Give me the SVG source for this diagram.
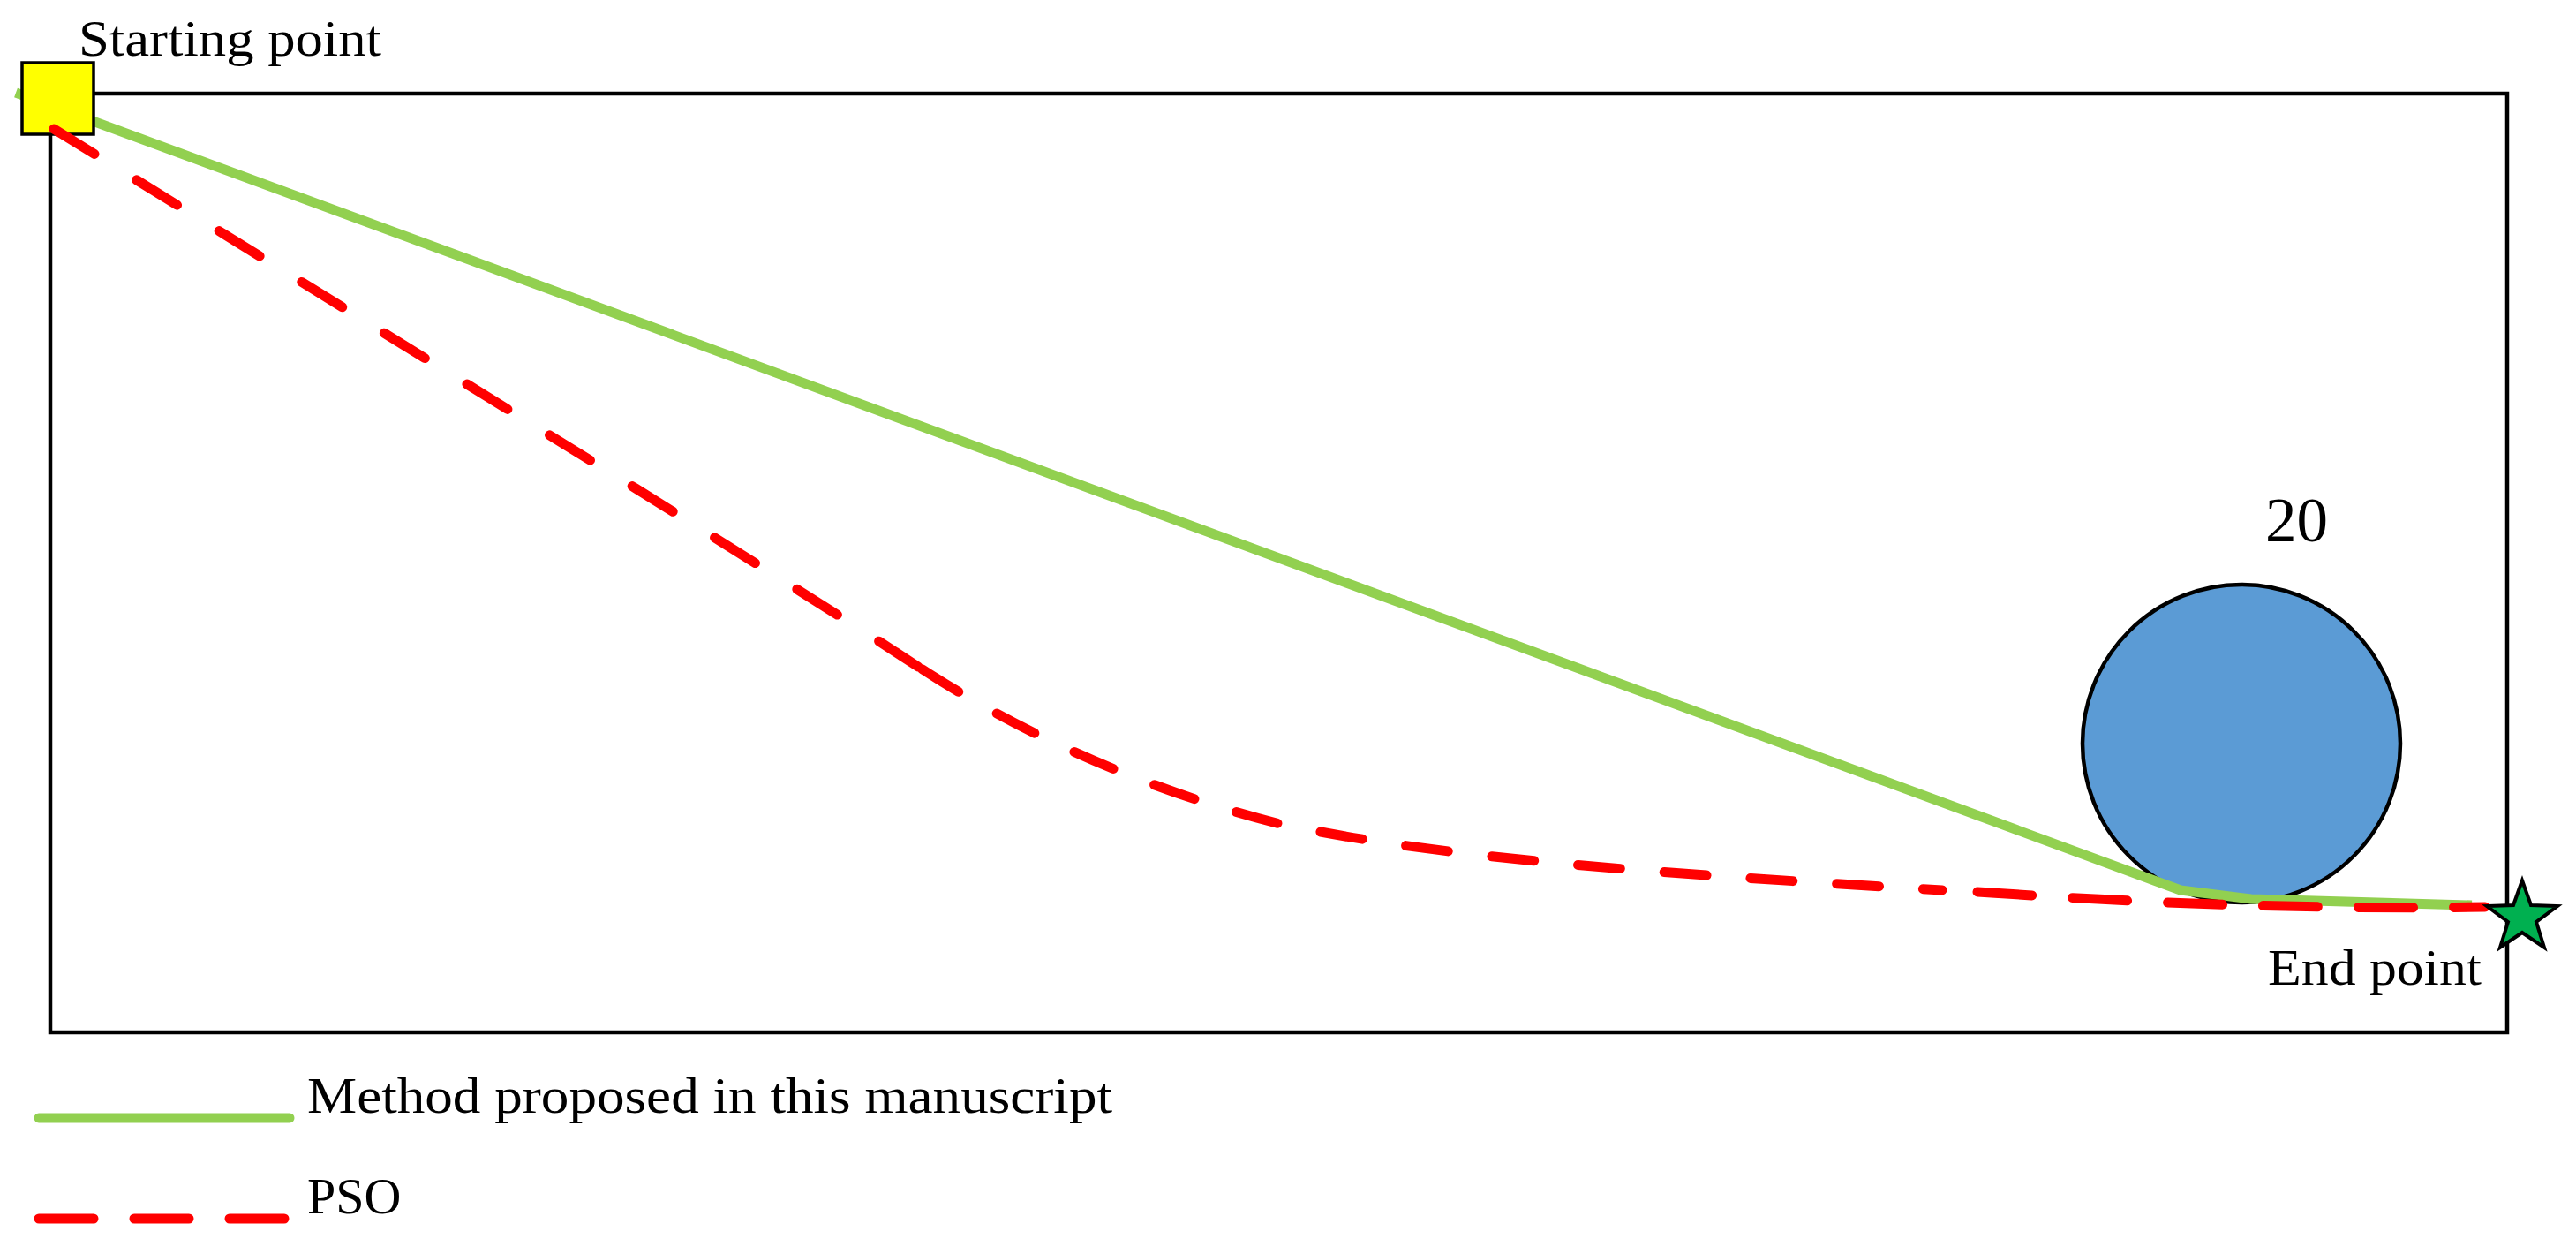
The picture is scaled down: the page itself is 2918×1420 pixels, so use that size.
<svg xmlns="http://www.w3.org/2000/svg" width="2918" height="1420" viewBox="0 0 2918 1420">
<style>
.lbl{font-family:"Liberation Serif","Times New Roman",serif;fill:#000}
.green{fill:none;stroke:#92D050;stroke-width:11;stroke-linejoin:round}
.red{fill:none;stroke:#FF0000;stroke-width:11;stroke-linecap:round;stroke-dasharray:62 46}
</style>
<rect width="2918" height="1420" fill="#fff"/>
<g id="field">
<rect x="57" y="106" width="2783" height="1063" fill="none" stroke="#000" stroke-width="4.5"/>
</g>
<g id="obstacle">
<circle cx="2539" cy="842" r="180" fill="#5B9BD5" stroke="#000" stroke-width="4.5"/>
<text class="lbl" x="2566" y="613" font-size="71">20</text>
</g>
<g id="connectors">
<path class="green" d="M18,105 L2470,1008 L2550,1018 L2800,1025"/>
</g>
<g id="start">
<rect x="25" y="71" width="81" height="81" fill="#FFFF00" stroke="#000" stroke-width="3.5"/>
<text class="lbl" x="89" y="63" font-size="58" textLength="343" lengthAdjust="spacingAndGlyphs">Starting point</text>
</g>
<g id="connectors-pso">
<path class="red" style="stroke-dasharray:54 56" d="M61,146 L720,553 C900,665 990,722 1040,755"/>
<path class="red" style="stroke-dasharray:48 50" d="M1045,758 C1140,820 1280,890 1450,933 C1650,975 1900,990 2200,1008"/>
<path class="red" d="M2240,1010 C2420,1022 2600,1030 2815,1027"/>
</g>
<g id="end">
<polygon points="2857,997 2867,1025 2897,1026 2873,1044 2882,1073 2857,1056 2832,1073 2841,1044 2817,1026 2847,1025" fill="#00B050" stroke="#000" stroke-width="4" stroke-linejoin="miter"/>
<text class="lbl" x="2569" y="1115" font-size="58" textLength="242" lengthAdjust="spacingAndGlyphs">End point</text>
</g>
<g id="legend">
<line x1="44" y1="1266" x2="328" y2="1266" stroke="#92D050" stroke-width="11" stroke-linecap="round"/>
<text class="lbl" x="348" y="1260" font-size="58" textLength="912" lengthAdjust="spacingAndGlyphs">Method proposed in this manuscript</text>
<line x1="44" y1="1380" x2="324" y2="1380" class="red"/>
<text class="lbl" x="348" y="1374" font-size="58">PSO</text>
</g>
</svg>
